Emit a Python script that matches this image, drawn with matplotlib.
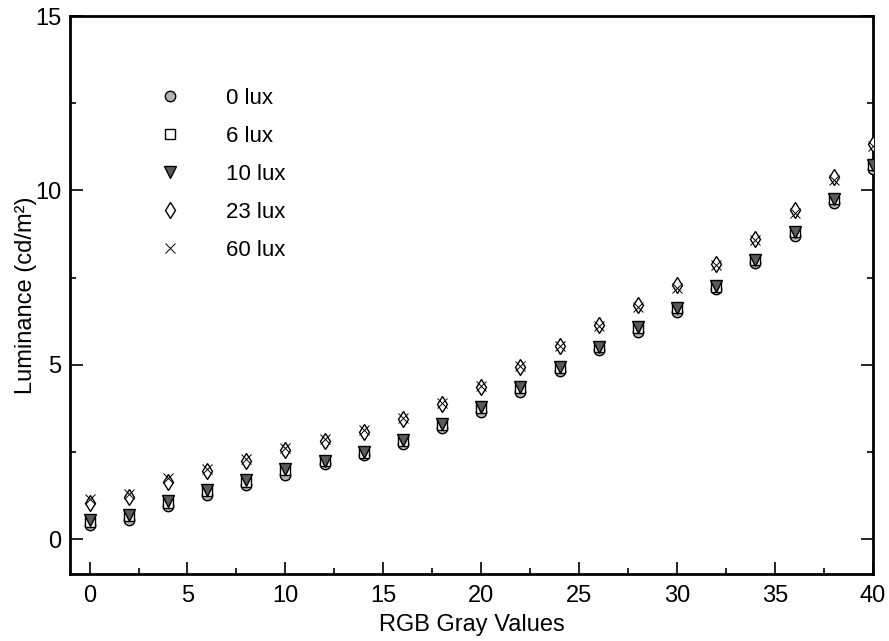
import matplotlib
matplotlib.use("Agg")
import matplotlib.pyplot as plt
from matplotlib.ticker import MultipleLocator

plt.rcParams['font.family'] = ['Liberation Sans', 'DejaVu Sans']

rgb = [0, 2, 4, 6, 8, 10, 12, 14, 16, 18, 20, 22, 24, 26, 28, 30, 32, 34, 36, 38, 40]
lux0 = [0.40, 0.55, 0.95, 1.28, 1.55, 1.85, 2.15, 2.40, 2.72, 3.18, 3.65, 4.22, 4.82, 5.42, 5.95, 6.52, 7.18, 7.92, 8.70, 9.64, 10.62]
lux6 = [0.50, 0.65, 1.05, 1.38, 1.65, 1.98, 2.25, 2.48, 2.82, 3.28, 3.75, 4.32, 4.90, 5.50, 6.06, 6.62, 7.24, 8.00, 8.80, 9.74, 10.72]
lux10 = [0.55, 0.70, 1.10, 1.40, 1.70, 2.00, 2.25, 2.50, 2.85, 3.30, 3.78, 4.35, 4.95, 5.50, 6.08, 6.62, 7.25, 8.00, 8.80, 9.74, 10.72]
lux23 = [1.05, 1.20, 1.65, 1.95, 2.25, 2.55, 2.80, 3.08, 3.44, 3.88, 4.36, 4.94, 5.53, 6.13, 6.70, 7.28, 7.90, 8.62, 9.45, 10.38, 11.32]
lux60 = [1.15, 1.30, 1.75, 2.02, 2.30, 2.62, 2.88, 3.12, 3.48, 3.90, 4.40, 4.96, 5.55, 6.10, 6.65, 7.20, 7.85, 8.58, 9.35, 10.30, 11.28]
labels = ['0 lux', '6 lux', '10 lux', '23 lux', '60 lux']

fig = plt.figure(figsize=(8.89, 6.41), dpi=100)
ax = fig.add_axes([0.0787, 0.1045, 0.9033, 0.8705])

ax.plot(rgb, lux0, 'o', ms=7.5, mfc='#b4b4b4', mec='black', mew=1.0, label=labels[0], zorder=3)
ax.plot(rgb, lux6, 's', ms=7, mfc='white', mec='black', mew=1.0, label=labels[1], zorder=3)
ax.plot(rgb, lux10, 'v', ms=8, mfc='#5a5a5a', mec='black', mew=1.0, label=labels[2], zorder=4)
ax.plot(rgb, lux23, 'd', ms=8, mfc='white', mec='black', mew=1.0, label=labels[3], zorder=3)
ax.plot(rgb, lux60, 'x', ms=7.5, mec='black', mew=0.7, label=labels[4], zorder=4)

ax.set_xlim(-1, 40)
ax.set_ylim(-1, 15)
ax.xaxis.set_major_locator(MultipleLocator(5))
ax.xaxis.set_minor_locator(MultipleLocator(2.5))
ax.yaxis.set_major_locator(MultipleLocator(5))
ax.yaxis.set_minor_locator(MultipleLocator(2.5))
ax.tick_params(which='both', direction='in', top=False, right=True, labelsize=17, width=1.2)
ax.tick_params(which='major', length=9)
ax.tick_params(which='minor', length=4)
ax.tick_params(axis='x', which='major', pad=8)
ax.tick_params(axis='y', which='major', pad=6)
for s in ax.spines.values():
    s.set_linewidth(2.0)

ax.set_xlabel('RGB Gray Values', fontsize=17, labelpad=5)
ax.set_ylabel('Luminance (cd/m²)', fontsize=17, labelpad=-1.5)

leg = ax.legend(loc='upper left', bbox_to_anchor=(0.0975, 0.891), frameon=False,
                fontsize=16, handlelength=1.0, handletextpad=1.98, labelspacing=0.76,
                numpoints=1, borderpad=0)

fig.savefig('out.png', dpi=100)
